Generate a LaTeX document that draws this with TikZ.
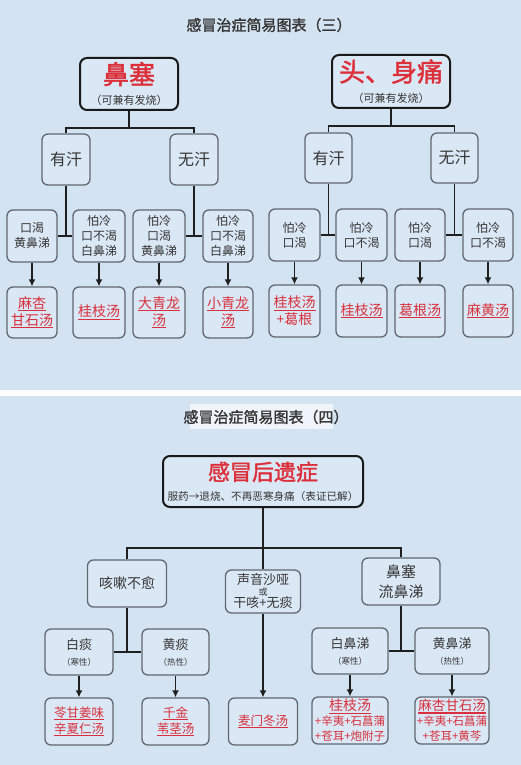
\documentclass[tikz,border=0pt]{standalone}
\usepackage{fontspec}
\setmainfont{Noto Sans CJK SC}
\newfontfamily\cjkb[FakeBold=1.6]{Noto Sans CJK SC}
\usetikzlibrary{arrows.meta}
\definecolor{bg}{HTML}{D3E3F1}
\definecolor{boxfill}{HTML}{DAE7F4}
\definecolor{boxgray}{HTML}{5F6873}
\definecolor{redA}{HTML}{DC2F3A}
\definecolor{redB}{HTML}{D8303C}
\definecolor{txt}{HTML}{363636}
\definecolor{hl}{HTML}{EEF4FA}
\newcommand\fs[2]{\fontsize{#1}{#2}\selectfont}
\newcommand\ulx[1]{\leavevmode\setbox0=\hbox{#1}\rlap{\rule[-2.8pt]{\wd0}{1.1pt}}\box0}
\tikzset{
  box/.style={draw=boxgray, line width=1.3pt, rounded corners=6pt, fill=boxfill,
    inner sep=0pt, align=center, text=txt},
  rootbox/.style={draw=black!90, line width=2pt, rounded corners=7pt, fill=boxfill,
    inner sep=0pt, align=center, text=txt},
  rem/.style={box, text=redB},
  conn/.style={draw=black!88, line width=1.8pt},
  arr/.style={conn, -{Latex[length=7pt,width=7pt]}},
}
\begin{document}
\begin{tikzpicture}[x=1pt,y=-1pt]
\useasboundingbox (0,0) rectangle (521,765);
\fill[white] (0,0) rectangle (521,765);
\fill[bg] (0,0) rectangle (521,390);
\fill[bg] (0,396) rectangle (521,765);

% ---------- panel (三) ----------
\node[font=\cjkb\fs{15}{15}, text=txt] (t1) at (269,25) {感冒治症简易图表（三）};

% left tree
\node[rootbox, minimum width=98pt, minimum height=52pt, font=\fs{11}{21}] (rA) at (129,84)
  {{\color{redA}\cjkb\fs{26}{26}鼻塞}\\（可兼有发烧）};
\node[box, minimum width=48pt, minimum height=51pt, font=\fs{16}{18}] (yA) at (66,159.5) {有汗};
\node[box, minimum width=48pt, minimum height=51pt, font=\fs{16}{18}] (wA) at (194,159.5) {无汗};
\node[box, minimum width=50pt, minimum height=52pt, font=\fs{12}{15}] (a1) at (32,236) {口渴\\黄鼻涕};
\node[box, minimum width=52pt, minimum height=52pt, font=\fs{12}{15}] (a2) at (99,236) {怕冷\\口不渴\\白鼻涕};
\node[box, minimum width=52pt, minimum height=52pt, font=\fs{12}{15}] (a3) at (159,236) {怕冷\\口渴\\黄鼻涕};
\node[box, minimum width=50pt, minimum height=52pt, font=\fs{12}{15}] (a4) at (228,236) {怕冷\\口不渴\\白鼻涕};
\node[rem, minimum width=50pt, minimum height=51pt, font=\fs{14}{17}] (ra1) at (32,312.5) {\ulx{麻杏}\\\ulx{甘石汤}};
\node[rem, minimum width=52pt, minimum height=51pt, font=\fs{14}{17}] (ra2) at (99,312.5) {\ulx{桂枝汤}};
\node[rem, minimum width=52pt, minimum height=51pt, font=\fs{14}{17}] (ra3) at (159,312.5) {\ulx{大青龙}\\\ulx{汤}};
\node[rem, minimum width=50pt, minimum height=51pt, font=\fs{14}{17}] (ra4) at (228,312.5) {\ulx{小青龙}\\\ulx{汤}};

\draw[conn] (rA.south) -- ++(0,17) coordinate (jA);
\draw[conn] (yA.north) |- (jA) -| (wA.north);
\draw[conn] (yA.south) -- (yA.south |- a1.east);
\draw[conn] (a1.east) -- (a2.west);
\draw[conn] (wA.south) -- (wA.south |- a3.east);
\draw[conn] (a3.east) -- (a4.west);
\draw[arr] (a1.south) -- (ra1.north);
\draw[arr] (a2.south) -- (ra2.north);
\draw[arr] (a3.south) -- (ra3.north);
\draw[arr] (a4.south) -- (ra4.north);

% right tree
\node[rootbox, minimum width=118pt, minimum height=53pt, font=\fs{11}{21}] (rB) at (391,81.5)
  {{\color{redA}\cjkb\fs{26}{26}头、身痛}\\（可兼有发烧）};
\node[box, minimum width=47pt, minimum height=50pt, font=\fs{16}{18}] (yB) at (328.5,158) {有汗};
\node[box, minimum width=47pt, minimum height=50pt, font=\fs{16}{18}] (wB) at (454.5,158) {无汗};
\node[box, minimum width=51pt, minimum height=52pt, font=\fs{12}{15}] (b1) at (294.5,235) {怕冷\\口渴};
\node[box, minimum width=51pt, minimum height=52pt, font=\fs{12}{15}] (b2) at (361.5,235) {怕冷\\口不渴};
\node[box, minimum width=50pt, minimum height=52pt, font=\fs{12}{15}] (b3) at (420,235) {怕冷\\口渴};
\node[box, minimum width=50pt, minimum height=52pt, font=\fs{12}{15}] (b4) at (488,235) {怕冷\\口不渴};
\node[rem, minimum width=51pt, minimum height=52pt, font=\fs{14}{17}] (rb1) at (294.5,311) {\ulx{桂枝汤}\\+葛根};
\node[rem, minimum width=51pt, minimum height=52pt, font=\fs{14}{17}] (rb2) at (361.5,311) {\ulx{桂枝汤}};
\node[rem, minimum width=50pt, minimum height=52pt, font=\fs{14}{17}] (rb3) at (420,311) {\ulx{葛根汤}};
\node[rem, minimum width=50pt, minimum height=52pt, font=\fs{14}{17}] (rb4) at (488,311) {\ulx{麻黄汤}};

\draw[conn] (rB.south) -- ++(0,17) coordinate (jB);
\draw[conn] (yB.north) |- (jB) -| (wB.north);
\draw[conn] (yB.south) -- (yB.south |- b1.east);
\draw[conn] (b1.east) -- (b2.west);
\draw[conn] (wB.south) -- (wB.south |- b3.east);
\draw[conn] (b3.east) -- (b4.west);
\draw[arr] (b1.south) -- (rb1.north);
\draw[arr] (b2.south) -- (rb2.north);
\draw[arr] (b3.south) -- (rb3.north);
\draw[arr] (b4.south) -- (rb4.north);

% ---------- panel (四) ----------
\fill[hl] (190,404) rectangle (333,429);
\node[font=\cjkb\fs{15}{15}, text=txt] (t2) at (266,417) {感冒治症简易图表（四）};

\node[rootbox, minimum width=200pt, minimum height=51pt, font=\fs{10.6}{20}] (rC) at (263,481.5)
  {{\color{redA}\cjkb\fs{22}{22}感冒后遗症}\\服药→退烧、不再恶寒身痛（表证已解）};
\node[box, minimum width=79pt, minimum height=47pt, font=\fs{14}{16}] (k1) at (127,583.5) {咳嗽不愈};
\node[box, minimum width=75pt, minimum height=43pt, font=\fs{13}{15}] (k2) at (263,591.5)
  {声音沙哑\\[-4pt]{\fs{9}{9}或}\\[-3pt]干咳+无痰};
\node[box, minimum width=78pt, minimum height=47pt, font=\fs{15}{20}] (k3) at (401,581.5) {鼻塞\\流鼻涕};

\node[box, minimum width=68pt, minimum height=46pt, font=\fs{13}{16}] (l1) at (79,652) {白痰\\{\fs{8.5}{9}（寒性）}};
\node[box, minimum width=67pt, minimum height=46pt, font=\fs{13}{16}] (l2) at (175.5,652) {黄痰\\{\fs{8.5}{9}（热性）}};
\node[box, minimum width=76pt, minimum height=46pt, font=\fs{13}{16}] (l3) at (350,651) {白鼻涕\\{\fs{8.5}{9}（寒性）}};
\node[box, minimum width=74pt, minimum height=46pt, font=\fs{13}{16}] (l4) at (452,651) {黄鼻涕\\{\fs{8.5}{9}（热性）}};

\node[rem, minimum width=68pt, minimum height=47pt, font=\fs{12.5}{15.5}] (m1) at (79,721.5) {\ulx{苓甘姜味}\\\ulx{辛夏仁汤}};
\node[rem, minimum width=67pt, minimum height=47pt, font=\fs{12.5}{15.5}] (m2) at (175.5,721.5) {\ulx{千金}\\\ulx{苇茎汤}};
\node[rem, minimum width=69pt, minimum height=47pt, font=\fs{12.5}{15.5}] (m3) at (263,721.5) {\ulx{麦门冬汤}};
\node[rem, minimum width=76pt, minimum height=47pt, font=\fs{11.5}{15}] (m4) at (350,720.5)
  {{\fs{14}{15}\ulx{桂枝汤}}\\+辛夷+石菖蒲\\+苍耳+炮附子};
\node[rem, minimum width=74pt, minimum height=47pt, font=\fs{11.5}{15}] (m5) at (452,720.5)
  {{\fs{13.5}{15}\ulx{麻杏甘石汤}}\\+辛夷+石菖蒲\\+苍耳+黄芩};

\draw[conn] (rC.south) -- (k2.north);
\coordinate (jC) at (rC.south |- 0,548);
\draw[conn] (k1.north) |- (jC) -| (k3.north);
\draw[conn] (k1.south) -- (k1.south |- l1.east);
\draw[conn] (l1.east) -- (l2.west);
\draw[conn] (k3.south) -- (k3.south |- l3.east);
\draw[conn] (l3.east) -- (l4.west);
\draw[arr] (l1.south) -- (m1.north);
\draw[arr] (l2.south) -- (m2.north);
\draw[arr] (k2.south) -- (m3.north);
\draw[arr] (l3.south) -- (m4.north);
\draw[arr] (l4.south) -- (m5.north);
\end{tikzpicture}
\end{document}
